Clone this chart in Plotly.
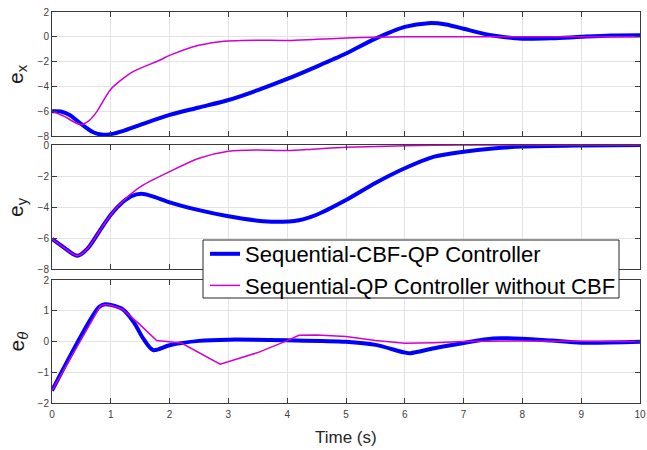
import plotly.graph_objects as go
from plotly.subplots import make_subplots

# ---- data ----
ex_blue_t = [0, 0.15, 0.3, 0.5, 0.7, 0.87, 1.0, 1.2, 1.5, 2.0, 2.5, 3.0, 3.5, 4.0, 4.5, 5.0, 5.5, 6.0, 6.4, 6.7, 7.0, 7.5, 8.0, 8.5, 9.0, 9.5, 10]
ex_blue_v = [-6.0, -6.02, -6.3, -7.05, -7.7, -7.9, -7.85, -7.6, -7.1, -6.3, -5.7, -5.1, -4.3, -3.4, -2.4, -1.35, -0.15, 0.8, 1.1, 1.0, 0.65, 0.1, -0.15, -0.12, 0.0, 0.1, 0.12]
ex_mag_t = [0, 0.2, 0.48, 0.62, 0.76, 0.88, 1.0, 1.2, 1.38, 1.84, 2.0, 2.5, 2.86, 3.0, 3.5, 4.0, 4.5, 5.0, 5.5, 6.0, 7.0, 8.0, 9.0, 10]
ex_mag_v = [-6.0, -6.4, -7.08, -6.8, -6.05, -5.1, -4.23, -3.4, -2.81, -1.87, -1.5, -0.68, -0.39, -0.34, -0.27, -0.3, -0.2, -0.1, -0.03, 0.0, 0.0, 0.0, 0.0, 0.0]

ey_blue_t = [0, 0.2, 0.43, 0.6, 0.8, 1.0, 1.2, 1.35, 1.52, 1.7, 2.0, 2.5, 3.0, 3.5, 3.8, 4.2, 4.5, 5.0, 5.5, 6.0, 6.5, 7.0, 7.5, 8.0, 9.0, 10]
ey_blue_v = [-6.05, -6.6, -7.15, -6.7, -5.6, -4.5, -3.7, -3.3, -3.15, -3.3, -3.7, -4.2, -4.6, -4.88, -4.95, -4.85, -4.5, -3.55, -2.45, -1.5, -0.75, -0.43, -0.22, -0.1, -0.03, 0.0]
ey_mag_t = [0, 0.2, 0.43, 0.6, 0.8, 1.0, 1.2, 1.5, 2.0, 2.5, 3.0, 3.5, 4.0, 4.5, 5.0, 6.0, 7.0, 8.0, 9.0, 10]
ey_mag_v = [-6.05, -6.6, -7.15, -6.7, -5.6, -4.5, -3.65, -2.7, -1.72, -0.85, -0.4, -0.32, -0.36, -0.25, -0.15, -0.05, 0.0, 0.0, 0.0, 0.0]

eth_blue_t = [0, 0.8, 0.9, 1.0, 1.2, 1.4, 1.55, 1.72, 2.0, 2.5, 3.0, 4.0, 5.0, 5.5, 6.0, 6.1, 6.5, 7.0, 7.5, 8.0, 8.5, 9.0, 10]
eth_blue_v = [-1.6, 1.12, 1.21, 1.19, 1.05, 0.6, 0.1, -0.28, -0.12, 0.02, 0.06, 0.04, -0.01, -0.11, -0.36, -0.38, -0.22, -0.05, 0.1, 0.09, 0.03, -0.04, -0.01]
eth_mag_t = [0, 0.82, 0.9, 1.0, 1.2, 1.5, 1.78, 2.0, 2.2, 2.86, 3.0, 3.5, 4.0, 4.2, 4.5, 5.0, 5.5, 6.0, 6.5, 7.0, 8.0, 10]
eth_mag_v = [-1.6, 1.15, 1.2, 1.18, 1.05, 0.54, 0.03, -0.01, -0.05, -0.74, -0.66, -0.36, 0.03, 0.2, 0.21, 0.16, 0.03, -0.06, -0.04, 0.0, 0.02, 0.0]

series_names = ["Sequential-CBF-QP Controller", "Sequential-QP Controller without CBF"]
x_ticks = list(range(0, 11))
ylabels = ["e<sub>x</sub>", "e<sub>y</sub>", "e<sub><i>θ</i></sub>"]
y_ranges = [[-8, 2], [-8, 0], [-2, 2]]
y_ticks = [[-8, -6, -4, -2, 0, 2], [-8, -6, -4, -2, 0], [-2, -1, 0, 1, 2]]

BLUE = "#0000ff"
MAG = "#d000d0"
FONT = "Liberation Sans, Arial"

fig = make_subplots(rows=3, cols=1, shared_xaxes=False, vertical_spacing=0.02)

panels = [
    (ex_blue_t, ex_blue_v, ex_mag_t, ex_mag_v, "spline"),
    (ey_blue_t, ey_blue_v, ey_mag_t, ey_mag_v, "spline"),
    (eth_blue_t, eth_blue_v, eth_mag_t, eth_mag_v, "linear"),
]
for i, (bt, bv, mt, mv, mshape) in enumerate(panels):
    r = i + 1
    fig.add_trace(go.Scatter(x=bt, y=bv, mode="lines", name=series_names[0],
                             line=dict(color=BLUE, width=4, shape="spline", smoothing=0.8),
                             showlegend=(i == 0)), row=r, col=1)
    fig.add_trace(go.Scatter(x=mt, y=mv, mode="lines", name=series_names[1],
                             line=dict(color=MAG, width=1.5, shape=mshape, smoothing=0.8),
                             showlegend=(i == 0)), row=r, col=1)

H_top, H_bot = 12, 403
ph = H_bot - H_top
PW = 588
def dom(top_px, bot_px):
    return [(H_bot - bot_px) / ph, (H_bot - top_px) / ph]
domains = [dom(12, 136), dom(145, 269), dom(280, 403)]

axis_common = dict(showline=True, linecolor="#3a3a3a", linewidth=1, mirror="allticks",
                   ticks="inside", ticklen=5, tickcolor="#3a3a3a", automargin=False,
                   showgrid=True, gridcolor="#e3e3e3", gridwidth=1, zeroline=False,
                   tickfont=dict(family=FONT, size=10, color="#404040"))

for i in range(3):
    xa = "xaxis" if i == 0 else f"xaxis{i+1}"
    ya = "yaxis" if i == 0 else f"yaxis{i+1}"
    fig.update_layout({
        xa: dict(range=[0, 10], tickvals=x_ticks, showticklabels=(i == 2),
                 ticklabelstandoff=2, **axis_common),
        ya: dict(range=y_ranges[i], tickvals=y_ticks[i], domain=domains[i], **axis_common),
    })
    yc = sum(domains[i]) / 2
    fig.add_annotation(text=ylabels[i], xref="paper", yref="paper", x=(17 - 52) / PW, y=yc,
                       xanchor="center", yanchor="middle", textangle=-90, showarrow=False,
                       font=dict(family=FONT, size=21, color="#1a1a1a"))

fig.add_annotation(text="Time (s)", xref="paper", yref="paper", x=0.5, y=(H_bot - 437) / ph,
                   xanchor="center", yanchor="middle", showarrow=False,
                   font=dict(family=FONT, size=17, color="#262626"))

# legend frame
fig.add_shape(type="rect", xref="paper", yref="paper",
              x0=(203 - 52) / PW, x1=(619 - 52) / PW,
              y0=(H_bot - 298) / ph, y1=(H_bot - 240) / ph,
              fillcolor="white", line=dict(color="#262626", width=1), layer="above")

fig.update_layout(
    width=647, height=450,
    autosize=False,
    margin=dict(l=52, r=7, t=12, b=47, autoexpand=False),
    paper_bgcolor="white", plot_bgcolor="white",
    showlegend=True,
    legend=dict(x=(205 - 52) / PW, y=(H_bot - 233) / ph, xanchor="left", yanchor="top",
                bgcolor="rgba(0,0,0,0)", borderwidth=0,
                font=dict(family=FONT, size=22, color="#000000"),
                tracegroupgap=0, itemwidth=30),
)

fig.write_html("out.html", config={"responsive": False})
